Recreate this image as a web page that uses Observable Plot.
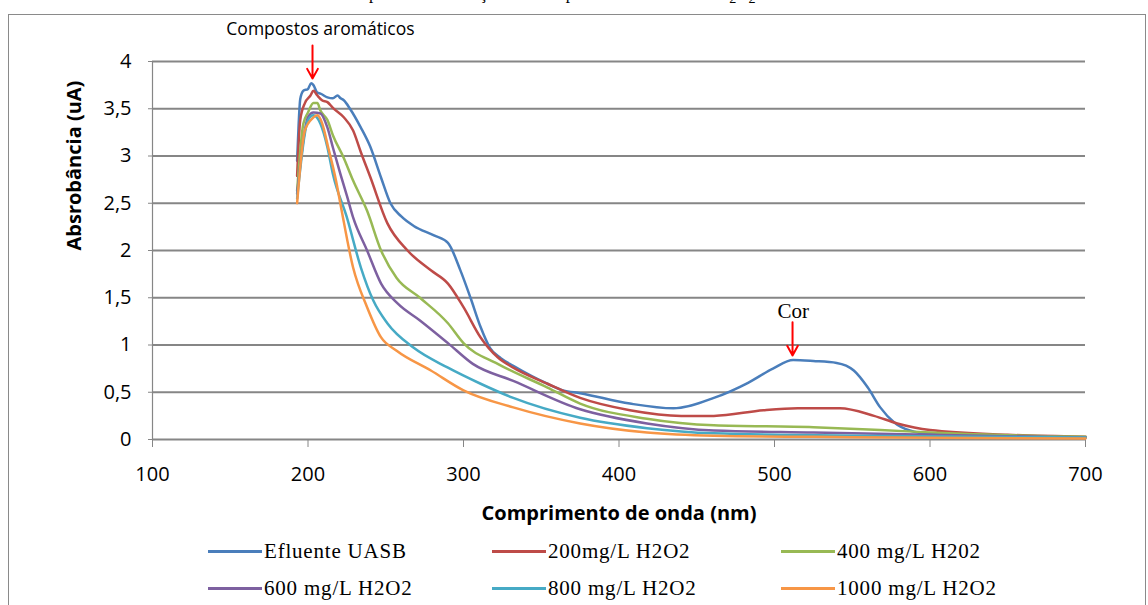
<!DOCTYPE html>
<html>
<head>
<meta charset="utf-8">
<script src="https://cdn.jsdelivr.net/npm/d3@7"></script>
<script src="https://cdn.jsdelivr.net/npm/@observablehq/plot@0.6"></script>
<style>
  html, body { margin: 0; padding: 0; background: #fff; }
  body { width: 1148px; height: 605px; position: relative; overflow: hidden; }
  #frame { position: absolute; left: 8px; top: 14px; right: 2px; bottom: -10px; border: 1.5px solid #8a8a8a; }
  #title { position: absolute; top: -16px; left: 352px; font: 17px "Liberation Serif", serif; color: #000; white-space: nowrap; }
  #chart { position: absolute; left: 0; top: 0; }
  .leg { position: absolute; display: flex; align-items: center; font: 21px "Liberation Serif", serif; letter-spacing: 0.8px; color: #000; white-space: nowrap; }
  .sw { width: 54px; height: 3px; margin-right: 2px; }
</style>
</head>
<body>
<div id="title">Espectros de absorção antes e após o tratamento com H<sub>2</sub>O<sub>2</sub>/UV-visível</div>
<div id="frame"></div>
<div id="chart"></div>
<div id="legend"></div>
<script>
// ---- data ----
const seriesNames = ["Efluente UASB", "200mg/L H2O2", "400 mg/L H202", "600 mg/L H2O2", "800 mg/L H2O2", "1000 mg/L H2O2"];
const seriesColors = ["#4A7EBB", "#BE4B48", "#98B954", "#7D60A0", "#46AAC5", "#F79646"];

const uasbNm  = [193,194,195,197,200,202,203.5,206,208,212.5,216,219,221,223,227,234,240,247,253,260,268,281,290,298,304.5,311,317,324,332,354,364,375,407,435,461,483,499,512,525,540,551,560,568,577,587,600,650,700];
const uasbAbs = [2.95,3.34,3.60,3.69,3.71,3.77,3.75,3.67,3.66,3.62,3.61,3.64,3.61,3.59,3.50,3.30,3.10,2.77,2.50,2.36,2.26,2.16,2.08,1.79,1.50,1.19,0.97,0.86,0.78,0.59,0.52,0.49,0.38,0.33,0.44,0.60,0.75,0.84,0.83,0.81,0.73,0.55,0.34,0.18,0.095,0.06,0.04,0.02];

const h200Nm  = [193,195,198,201.6,203.5,206,209,212.5,216,223,229,234,240,251,264,279,290,300,311,322,332,354,375,407,440,461,493,515,542,564,579,600,650,700];
const h200Abs = [2.79,3.38,3.56,3.64,3.69,3.64,3.59,3.57,3.51,3.41,3.27,3.04,2.78,2.29,2.00,1.79,1.65,1.40,1.08,0.87,0.76,0.59,0.44,0.31,0.25,0.25,0.31,0.33,0.33,0.25,0.17,0.10,0.05,0.03];

const h400Nm  = [193,197,200,203.5,206,208,212.5,216,223,229,238,247,257,272,290,300,322,354,375,418,461,525,568,620,700];
const h400Abs = [2.63,3.34,3.46,3.56,3.56,3.48,3.38,3.22,2.98,2.74,2.42,2.00,1.71,1.50,1.23,1.02,0.80,0.55,0.38,0.22,0.15,0.13,0.10,0.06,0.03];

const h600Nm  = [193,200,203.5,208,212.5,216,221,225,229,238,247,257.6,272,290,306,332,375,418,461,525,600,700];
const h600Abs = [2.60,3.41,3.46,3.45,3.30,3.09,2.80,2.58,2.35,2.00,1.65,1.44,1.26,1.02,0.80,0.62,0.32,0.17,0.095,0.074,0.05,0.02];

const h800Nm  = [193,200,203.5,208,212.5,216,225,234,242,251,268,290,311,332,375,418,461,550,700];
const h800Abs = [2.55,3.38,3.43,3.34,3.09,2.81,2.35,1.82,1.47,1.23,0.97,0.76,0.59,0.44,0.23,0.12,0.065,0.04,0.02];

const h1000Nm  = [193,198,203,206,209,213,218,221,229,238,247,257,279,300,332,375,418,461,550,700];
const h1000Abs = [2.50,3.27,3.40,3.43,3.35,3.09,2.74,2.48,1.82,1.40,1.08,0.94,0.73,0.52,0.34,0.17,0.074,0.04,0.025,0.01];

const xTicks = [100, 200, 300, 400, 500, 600, 700];
const yTicks = [0, 0.5, 1, 1.5, 2, 2.5, 3, 3.5, 4];

const noteLabels = ["Compostos aromáticos", "Cor"];
const noteNm = [208, 512];
const noteAbs = [4.34, 1.355];
const arrowNm = [202.9, 511.6];
const arrowFrom = [4.17, 1.24];
const arrowTo = [3.82, 0.89];

const xTitle = "Comprimento de onda (nm)";
const yTitle = "Absrobância (uA)";

// ---- build table ----
const seriesData = [
  [uasbNm, uasbAbs], [h200Nm, h200Abs], [h400Nm, h400Abs],
  [h600Nm, h600Abs], [h800Nm, h800Abs], [h1000Nm, h1000Abs]
];
const rows = seriesData.flatMap(([nm, ab], k) => nm.map((x, i) => ({series: seriesNames[k], nm: x, abs: ab[i]})));
const notes = noteLabels.map((t, i) => ({text: t, nm: noteNm[i], abs: noteAbs[i]}));
const arrows = arrowNm.map((x, i) => ({nm: x, y1: arrowFrom[i], y2: arrowTo[i]}));
const comma = d => String(d).replace(".", ",");
const gray = "#868686";

const plot = Plot.plot({
  width: 1148,
  height: 530,
  marginLeft: 152,
  marginRight: 63,
  marginTop: 61,
  marginBottom: 91,
  style: {background: "none", fontFamily: "'Open Sans', sans-serif", color: "#000"},
  x: {domain: [100, 700]},
  y: {domain: [0, 4]},
  color: {domain: seriesNames, range: seriesColors},
  marks: [
    Plot.gridY(yTicks.filter(d => d > 0), {stroke: gray, strokeOpacity: 1, strokeWidth: 1.8}),
    Plot.ruleX([100], {stroke: gray, strokeWidth: 1.2}),
    Plot.axisY({ticks: yTicks, tickSize: 4, tickPadding: 17, tickFormat: comma, fontSize: 20, stroke: gray, label: null}),
    Plot.axisX({ticks: xTicks, tickSize: 8, tickPadding: 19, fontSize: 20, stroke: gray, label: null}),
    Plot.ruleY([0], {stroke: gray, strokeWidth: 1.8}),
    Plot.line(rows, {x: "nm", y: "abs", z: "series", stroke: "series", strokeWidth: 2.5, curve: "monotone-x"}),
    Plot.arrow(arrows, {x1: "nm", y1: "y1", x2: "nm", y2: "y2", stroke: "#FF0000", strokeWidth: 2, headLength: 20, headAngle: 58}),
    Plot.text(notes.slice(0, 1), {x: "nm", y: "abs", text: "text", fontSize: 17.5, fontFamily: "'Open Sans', sans-serif", lineAnchor: "middle", fill: "#000"}),
    Plot.text(notes.slice(1), {x: "nm", y: "abs", text: "text", fontSize: 21, fontFamily: "'Liberation Serif', serif", lineAnchor: "middle", fill: "#000"}),
    Plot.text([xTitle], {frameAnchor: "bottom", dy: 74, text: d => d, fontSize: 20, fontWeight: "bold", lineAnchor: "middle", fill: "#000"}),
    Plot.text([yTitle], {frameAnchor: "left", dx: -78, rotate: -90, text: d => d, fontSize: 20, fontWeight: "bold", lineAnchor: "middle", fill: "#000"})
  ]
});
document.getElementById("chart").appendChild(plot);

// ---- legend ----
const legend = document.getElementById("legend");
const colX = [208, 492, 781];
const rowY = [551, 588];
seriesNames.forEach((name, i) => {
  const item = document.createElement("div");
  item.className = "leg";
  item.style.left = colX[i % 3] + "px";
  item.style.top = (rowY[Math.floor(i / 3)] - 13) + "px";
  item.style.height = "26px";
  const sw = document.createElement("span");
  sw.className = "sw";
  sw.style.background = seriesColors[i];
  const tx = document.createElement("span");
  tx.textContent = name;
  item.appendChild(sw);
  item.appendChild(tx);
  legend.appendChild(item);
});
</script>
</body>
</html>
